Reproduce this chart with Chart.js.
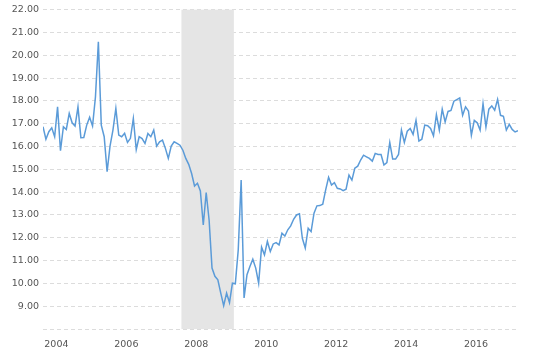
<!DOCTYPE html>
<html>
<head>
<meta charset="utf-8">
<script src="https://cdn.jsdelivr.net/npm/chart.js@4"></script>
<style>
  html, body { margin: 0; padding: 0; background: #fff; }
  #wrap { width: 550px; height: 347px; position: relative; }
</style>
</head>
<body>
<div id="wrap"><canvas id="myChart"></canvas></div>
<script>
// monthly values, first point = Dec 2003
const startYear = 2003
const startMonth = 12

const sales = [
  16.87, 16.32, 16.65, 16.82, 16.43, 17.74, 15.82, 16.87, 16.75, 17.45,
  17.04, 16.90, 17.74, 16.39, 16.40, 16.94, 17.28, 16.90, 18.18, 20.59,
  16.94, 16.43, 14.90, 16.02, 16.72, 17.67, 16.50, 16.43, 16.58, 16.18,
  16.36, 17.23, 15.87, 16.43, 16.35, 16.14, 16.57, 16.43, 16.72, 16.02,
  16.21, 16.28, 15.92, 15.48, 16.02, 16.21, 16.14, 16.06, 15.84, 15.48,
  15.22, 14.82, 14.27, 14.39, 14.05, 12.56, 13.98, 12.78, 10.67, 10.31,
  10.16, 9.57, 9.02, 9.57, 9.16, 10.01, 9.98, 11.47, 14.53, 9.36,
  10.38, 10.74, 11.06, 10.67, 10.01, 11.59, 11.25, 11.84, 11.40, 11.73,
  11.79, 11.69, 12.20, 12.08, 12.35, 12.52, 12.81, 13.00, 13.05, 11.98,
  11.55, 12.42, 12.27, 13.08, 13.40, 13.41, 13.47, 14.10, 14.65, 14.31,
  14.42, 14.17, 14.14, 14.07, 14.13, 14.75, 14.53, 15.05, 15.14, 15.41,
  15.62, 15.55, 15.48, 15.36, 15.70, 15.65, 15.65, 15.19, 15.30, 16.18,
  15.45, 15.45, 15.65, 16.72, 16.18, 16.67, 16.79, 16.53, 17.15, 16.24,
  16.32, 16.94, 16.91, 16.79, 16.47, 17.40, 16.72, 17.64, 17.08, 17.54,
  17.58, 17.99, 18.06, 18.13, 17.37, 17.74, 17.56, 16.50, 17.15, 17.04,
  16.72, 17.88, 16.86, 17.64, 17.78, 17.59, 18.07, 17.37, 17.33, 16.72,
  16.97, 16.75, 16.64, 16.69
]

const yearLabels = ['2004', '2006', '2008', '2010', '2012', '2014', '2016']

// shaded recession, first and last month
const recession = ['2007-12', '2009-06']

const monthIndex = s => {
  const [y, m] = s.split('-').map(Number)
  return (y - startYear) * 12 + (m - startMonth)
}

const points = sales.map((v, i) => ({ x: i, y: v }))

const bandPlugin = {
  id: 'band',
  beforeDatasetsDraw(chart) {
    const { ctx, chartArea, scales } = chart
    const x0 = scales.x.getPixelForValue(monthIndex(recession[0]) - 0.5)
    const x1 = scales.x.getPixelForValue(monthIndex(recession[1]) - 0.5)
    ctx.save()
    ctx.fillStyle = '#e5e5e5'
    ctx.fillRect(x0, chartArea.top, x1 - x0, chartArea.bottom - chartArea.top)
    ctx.restore()
  }
}

const font = { family: '"DejaVu Sans", Verdana, sans-serif', size: 9.5 }

new Chart(document.getElementById('myChart'), {
  type: 'line',
  data: {
    datasets: [{
      data: points,
      borderColor: '#5b9bd8',
      borderWidth: 1.5,
      pointRadius: 0,
      tension: 0,
      fill: false
    }]
  },
  options: {
    responsive: true,
    maintainAspectRatio: false,
    animation: false,
    layout: { padding: { top: 9, right: 32, left: 0, bottom: 0 } },
    plugins: { legend: { display: false }, tooltip: { enabled: false } },
    scales: {
      x: {
        type: 'linear',
        min: 0,
        max: sales.length - 1,
        grid: { display: false },
        border: { display: false },
        afterBuildTicks(axis) {
          // label sits a few months into the year
          axis.ticks = yearLabels.map(y => ({ value: monthIndex(y + '-04') + 0.6 }))
        },
        afterFit(axis) { axis.height = 18 },
        ticks: {
          color: '#555',
          font: font,
          padding: 2,
          maxRotation: 0,
          callback: (v, i) => yearLabels[i]
        }
      },
      y: {
        min: 8,
        max: 22,
        border: { display: false, dash: [4, 3] },
        grid: { color: '#dcdcdc', drawTicks: false },
        afterFit(axis) { axis.width = 43 },
        ticks: {
          stepSize: 1,
          color: '#555',
          font: font,
          padding: 4,
          callback: v => v === 8 ? '' : v.toFixed(2)
        }
      }
    }
  },
  plugins: [bandPlugin]
})
</script>
</body>
</html>
